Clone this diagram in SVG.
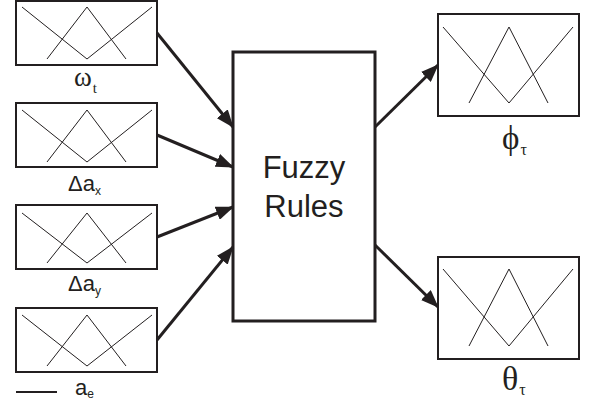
<svg xmlns="http://www.w3.org/2000/svg" width="589" height="402" viewBox="0 0 589 402">
<style>
.box{fill:#fff;stroke:#231f20;stroke-width:2}
.mf{fill:none;stroke:#231f20;stroke-width:1}
.conn{fill:none;stroke:#231f20;stroke-width:3}
.serif{font-family:"Liberation Serif","DejaVu Serif",serif;fill:#231f20}
.sans{font-family:"Liberation Sans",Arial,sans-serif;fill:#231f20}
</style>
<defs>
<marker id="ah" viewBox="0 0 18 14" refX="17" refY="7" markerWidth="18" markerHeight="14" markerUnits="userSpaceOnUse" orient="auto">
<path d="M0,0 L18,7 L0,14 z" fill="#231f20"/>
</marker>
</defs>
<rect width="589" height="402" fill="#fff"/>
<g id="in1">
<rect class="box" x="16" y="1" width="141" height="64"/>
<polyline class="mf" points="22,7 87,59 152,7"/>
<polyline class="mf" points="47,59 87,7 126,59"/>
<text class="serif" x="74" y="86" font-size="27">ω<tspan font-size="15" dy="7" dx="1">t</tspan></text>
</g>
<g id="in2">
<rect class="box" x="16" y="103" width="141" height="64"/>
<polyline class="mf" points="22,110 87,162 152,110"/>
<polyline class="mf" points="47,162 87,110 126,162"/>
<text class="sans" x="68" y="191" font-size="22">Δa<tspan font-size="12" dy="4">x</tspan></text>
</g>
<g id="in3">
<rect class="box" x="16" y="205" width="141" height="64"/>
<polyline class="mf" points="22,213 87,263 152,213"/>
<polyline class="mf" points="47,263 87,213 126,263"/>
<text class="sans" x="68" y="291" font-size="22">Δa<tspan font-size="12" dy="4">y</tspan></text>
</g>
<g id="in4">
<rect class="box" x="16" y="308" width="141" height="64"/>
<polyline class="mf" points="22,315 87,366 152,315"/>
<polyline class="mf" points="47,366 87,315 126,366"/>
<line x1="16" y1="392" x2="57" y2="392" stroke="#231f20" stroke-width="2"/>
<text class="sans" x="75" y="395" font-size="22">a<tspan font-size="12" dy="3">e</tspan></text>
</g>
<g id="rules">
<rect x="233" y="52" width="142" height="269" fill="#fff" stroke="#231f20" stroke-width="3"/>
<text class="sans" x="304" y="178" font-size="31" text-anchor="middle">Fuzzy</text>
<text class="sans" x="304" y="217" font-size="31" text-anchor="middle">Rules</text>
</g>
<g id="out1">
<rect class="box" x="438" y="14" width="141" height="102"/>
<polyline class="mf" points="443,27 509,103 573,27"/>
<polyline class="mf" points="469,103 509,27 548,103"/>
<text class="serif" x="502" y="149" font-size="33">ϕ<tspan font-size="16" dy="6" dx="1">τ</tspan></text>
</g>
<g id="out2">
<rect class="box" x="438" y="257" width="141" height="102"/>
<polyline class="mf" points="443,269 509,346 573,269"/>
<polyline class="mf" points="469,346 509,269 548,346"/>
<text class="serif" x="502" y="390" font-size="34">θ<tspan font-size="16" dy="5" dx="1">τ</tspan></text>
</g>
<g id="connectors">
<line class="conn" x1="157" y1="33" x2="233" y2="127" marker-end="url(#ah)"/>
<line class="conn" x1="157" y1="135" x2="233" y2="167" marker-end="url(#ah)"/>
<line class="conn" x1="157" y1="237" x2="233" y2="207" marker-end="url(#ah)"/>
<line class="conn" x1="157" y1="340" x2="233" y2="247" marker-end="url(#ah)"/>
<line class="conn" x1="375" y1="127" x2="438" y2="65" marker-end="url(#ah)"/>
<line class="conn" x1="375" y1="245" x2="438" y2="307" marker-end="url(#ah)"/>
</g>
</svg>
